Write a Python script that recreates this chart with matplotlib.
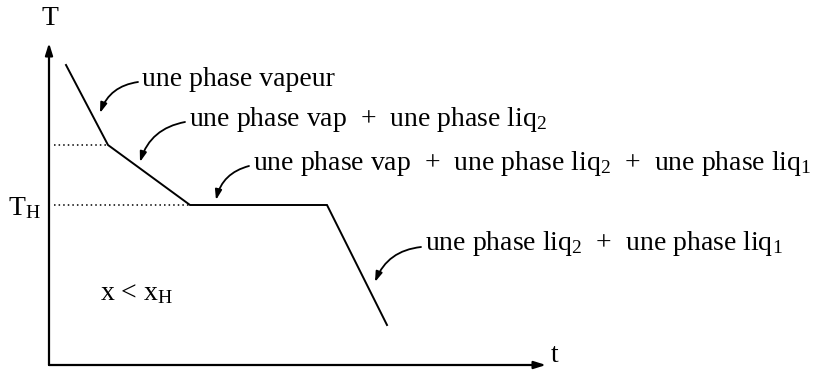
import matplotlib.pyplot as plt

plt.rcParams['font.family'] = 'Liberation Serif'
plt.rcParams['mathtext.fontset'] = 'custom'
plt.rcParams['mathtext.rm'] = 'Liberation Serif'
plt.rcParams['mathtext.it'] = 'Liberation Serif:italic'

# Cooling curve (time t, temperature T), arbitrary units
t_curve = [17, 59, 141, 278, 338]
T_curve = [300, 220, 160, 160, 40]

# Temperature levels marked by dotted lines
T_levels = [220, 160]
t_levels_end = [59, 141]

# Phase labels: text, text anchor (t, T), arrow tip (t, T)
labels = [
    'une phase vapeur',
    'une phase vap  +  une phase liq$_2$',
    'une phase vap  +  une phase liq$_2$  +  une phase liq$_1$',
    'une phase liq$_2$  +  une phase liq$_1$',
]
label_pos = [(93, 286), (140, 246), (204, 202), (376, 121)]
arrow_tips = [(51, 252), (91, 203), (167, 165), (326, 83)]

fs = 20

fig = plt.figure(figsize=(8.39, 3.71), dpi=100)
ax = fig.add_axes([0, 0, 1, 1])
ax.set_xlim(-49, 790)
ax.set_ylim(-6, 365)
ax.axis('off')

# axes with arrows
ax.annotate('', xy=(0, 322), xytext=(0, 0),
            arrowprops=dict(arrowstyle='-|>,head_length=0.7,head_width=0.22',
                            color='black', lw=1.6, shrinkA=0, shrinkB=0))
ax.annotate('', xy=(497, 0), xytext=(0, 0),
            arrowprops=dict(arrowstyle='-|>,head_length=0.7,head_width=0.22',
                            color='black', lw=1.6, shrinkA=0, shrinkB=0))
ax.text(1, 334, 'T', fontsize=fs, ha='center', va='bottom')
ax.text(502, -3, 't', fontsize=fs, ha='left', va='bottom')

ax.plot(t_curve, T_curve, color='black', lw=1.4, solid_joinstyle='miter')

for lvl, end in zip(T_levels, t_levels_end):
    ax.plot([5, end], [lvl, lvl], color='black', lw=1.1, ls=(0, (1, 2)))

ax.text(-8, 157, 'T$_\\mathrm{H}$', fontsize=fs, ha='right', va='center')
ax.text(51, 71, 'x < x$_\\mathrm{H}$', fontsize=fs, ha='left', va='center')

for txt, pos, tip in zip(labels, label_pos, arrow_tips):
    ax.text(pos[0], pos[1], txt, fontsize=fs, ha='left', va='center')
    ax.annotate('', xy=tip, xytext=(pos[0] - 4, pos[1] - 3),
                arrowprops=dict(arrowstyle='-|>,head_length=0.6,head_width=0.2',
                                color='black', lw=1.3, shrinkA=0, shrinkB=0,
                                connectionstyle='arc3,rad=0.3'))

fig.savefig('out.png', dpi=100)
